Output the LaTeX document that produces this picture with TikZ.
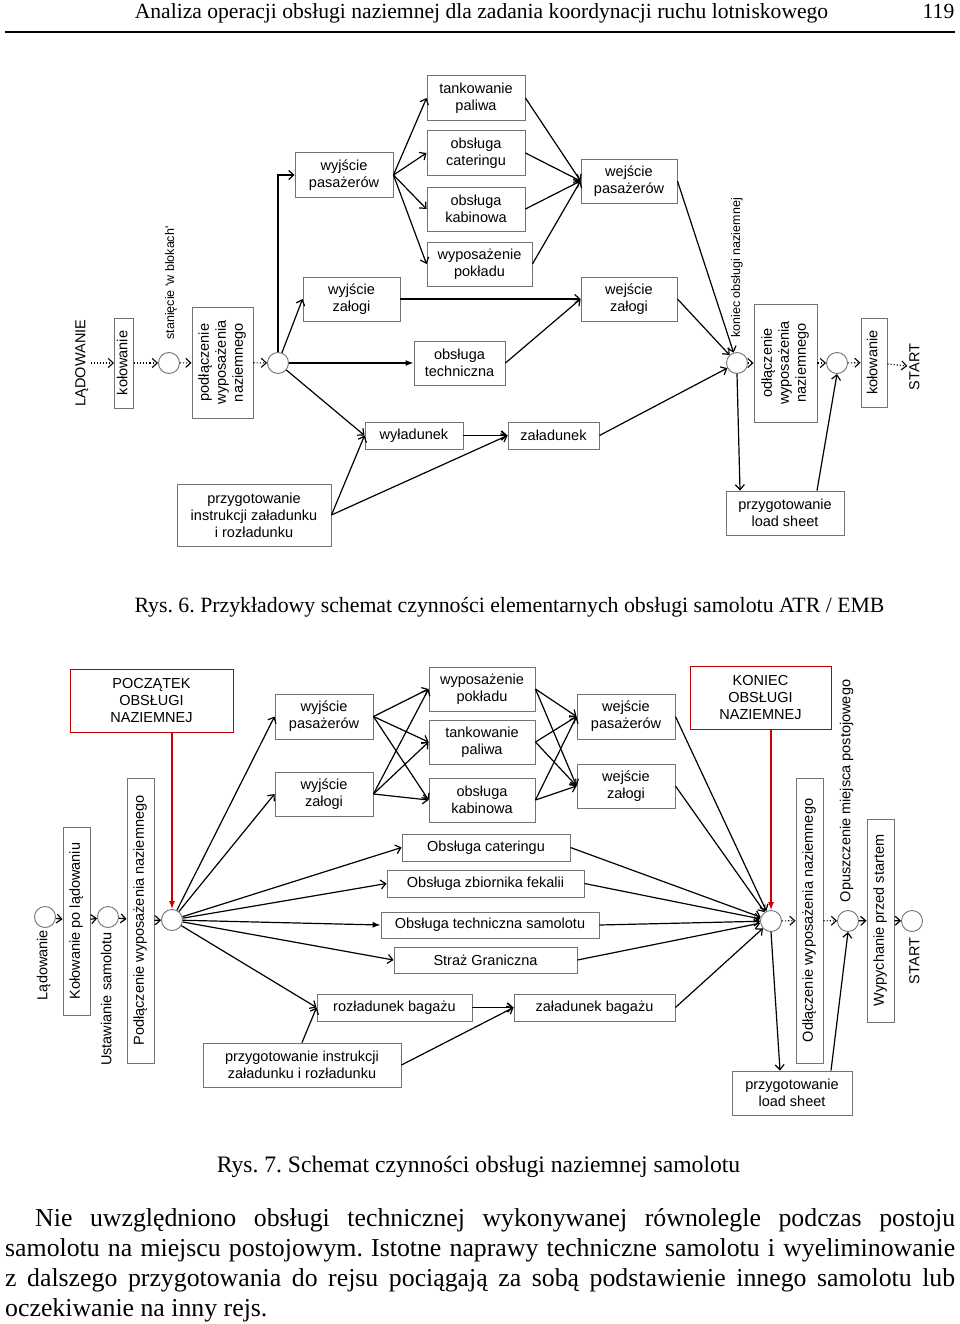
\documentclass[tikz,border=0pt]{standalone}
\usepackage{fontspec}
\usepackage{graphicx}
\setmainfont{Liberation Serif}
\newfontfamily\arial{Liberation Sans}
\usetikzlibrary{arrows.meta}
\frenchspacing
\newcommand{\diag}{\arial\fontsize{14.5}{17}\selectfont}
\newcommand{\diagsmall}{\arial\fontsize{12.5}{15}\selectfont}
\newcommand{\vtxt}[1]{\rotatebox{90}{\begin{tabular}{@{}c@{}}#1\end{tabular}}}
\tikzstyle{every node}=[font=\diag]
\tikzstyle{box}=[draw=black!55,
                 line width=0.9pt,
                 align=center,
                 inner sep=1pt
                 ]
\tikzstyle{redbox}=[box,
                    draw=red!75!black]
\tikzstyle{event}=[circle,
                   draw=black!55,
                   line width=0.9pt,
                   minimum size=21pt,
                   inner sep=0pt]
\tikzstyle{vlabel}=[inner sep=0pt]
\tikzstyle{seq}=[dotted,line width=1.1pt]
\tikzstyle{flow}=[line width=1.2pt]
\tikzset{wh/.style 2 args={minimum width=#1pt,minimum height=#2pt}}

\begin{document}
\begin{tikzpicture}[x=1pt,y=-1pt,>={Straight Barb[length=5pt,width=9pt]}]
\fill[white] (0,0) rectangle (960,1324);
\useasboundingbox (0,0) rectangle (960,1324);
% naglowek strony
\node[font=\rmfamily\fontsize{21.6}{25}\selectfont,anchor=base] (title) at (481.5,19) {Analiza operacji obsługi naziemnej dla zadania koordynacji ruchu lotniskowego};
\node[font=\rmfamily\fontsize{21.6}{25}\selectfont,anchor=base] (page) at (938.5,19) {119};
\coordinate (r_l) at (5,32);
\coordinate (r_r) at (955,32);
\draw[line width=2pt] (r_l) -- (r_r);

%%%% Rys. 6
\node (L_6)   [vlabel] at (82,363) {\vtxt{LĄDOWANIE}};
\node (K_6a)  [box,wh={18}{90}] at (124,363) {\vtxt{kołowanie}};
\node (S_1)   [event] at (169,363) {};
\node (SL_1)  [vlabel,font=\diagsmall] at (171,283) {\vtxt{stanięcie \textquotesingle w blokach\textquotesingle}};
\node (P_6)   [box,wh={61}{111}] at (222.5,362.5) {\vtxt{podłączenie\\wyposażenia\\naziemnego}};
\node (S_2)   [event] at (278,363) {};
\node (WP_6)  [box,wh={98}{45}] at (344,175) {wyjście\\pasażerów};
\node (TP_6)  [box,wh={98}{45}] at (476,98) {tankowanie\\paliwa};
\node (OC_6)  [box,wh={98}{45}] at (476,153) {obsługa\\cateringu};
\node (OK_6)  [box,wh={98}{44}] at (476,209) {obsługa\\kabinowa};
\node (WY_6)  [box,wh={105}{44}] at (479.5,264) {wyposażenie\\pokładu};
\node (WZ_6)  [box,wh={97}{44}] at (351.5,299) {wyjście\\załogi};
\node (OT_6)  [box,wh={91}{44}] at (459.5,363) {obsługa\\techniczna};
\node (WL_6)  [box,wh={98}{27}] at (414,435.5) {wyładunek};
\node (ZL_6)  [box,wh={91}{27}] at (553.5,435.5) {załadunek};
\node (PI_6)  [box,wh={154}{62}] at (254,515) {przygotowanie\\instrukcji załadunku\\i rozładunku};
\node (EP_6)  [box,wh={96}{44}] at (629,181) {wejście\\pasażerów};
\node (EZ_6)  [box,wh={96}{44}] at (629,299) {wejście\\załogi};
\node (S_3)   [event] at (737,363) {};
\node (SL_3)  [vlabel,font=\diagsmall] at (737,268) {\vtxt{koniec obsługi naziemnej}};
\node (OD_6)  [box,wh={63}{118}] at (785.5,363) {\vtxt{odłączenie\\wyposażenia\\naziemnego}};
\node (S_4)   [event] at (837,363) {};
\node (K_6b)  [box,wh={26}{89}] at (874,362.5) {\vtxt{kołowanie}};
\node (ST_6)  [vlabel] at (916,367) {\vtxt{START}};
\node (LS_6)  [box,wh={118}{44}] at (785,513) {przygotowanie\\load sheet};

\path[->] (L_6) edge[seq] (K_6a);
\path[->] (K_6a) edge[seq] (S_1);
\path[->] (S_1) edge[seq] (P_6);
\path[->] (P_6) edge[seq] (S_2);
\draw[->,flow] (S_2.north) |- (WP_6.west);
\path[->] (S_2) edge[flow] (WZ_6.west);
\path[-{Latex[length=8pt,width=6pt]}] (S_2) edge[flow] (OT_6);
\path[->] (S_2) edge[flow] (WL_6.west);
\foreach \t in {TP_6,OC_6,OK_6,WY_6}{
 \path[->] (WP_6.east) edge[flow] (\t.west);
 \path[->] (\t.east) edge[flow] (EP_6.west);
}
\path[->] (WZ_6) edge[flow] (EZ_6);
\path[->] (OT_6.east) edge[flow] (EZ_6.west);
\path[->] (WL_6) edge[line width=1.7pt] (ZL_6);
\path[->] (PI_6.east) edge[flow] (WL_6.west);
\path[->] (PI_6.east) edge[flow] (ZL_6.west);
\path[->] (EP_6.east) edge[flow] (S_3);
\path[->] (EZ_6.east) edge[flow] (S_3);
\path[->] (ZL_6.east) edge[flow] (S_3);
\path[->] (S_3) edge[seq] (OD_6);
\path[->] (OD_6) edge[seq] (S_4);
\path[->] (S_4) edge[seq] (K_6b);
\path[->] (K_6b) edge[seq] (ST_6);
\path[->] (S_3.south) edge[flow] ([xshift=-45pt]LS_6.north);
\path[->] ([xshift=32pt]LS_6.north) edge[flow] (S_4.south);

\node[font=\rmfamily\fontsize{21.8}{25}\selectfont,anchor=base] (cap6) at (509.5,612) {Rys. 6. Przykładowy schemat czynności elementarnych obsługi samolotu ATR / EMB};

%%%% Rys. 7
\node (C_1)   [event] at (45,917) {};
\node (CL_1)  [vlabel] at (44,965) {\vtxt{Lądowanie}};
\node (KL_7)  [box,wh={27}{188}] at (76.5,921) {\vtxt{Kołowanie po lądowaniu}};
\node (C_2)   [event] at (108,917) {};
\node (CL_2)  [vlabel] at (108,999) {\vtxt{Ustawianie samolotu}};
\node (PW_7)  [box,wh={27}{285}] at (140.5,920.5) {\vtxt{Podłączenie wyposażenia naziemnego}};
\node (C_3)   [event] at (172,920) {};
\node (PO_7)  [redbox,wh={163}{63}] at (151.5,700.5) {POCZĄTEK\\OBSŁUGI\\NAZIEMNEJ};
\node (WP_7)  [box,wh={98}{45}] at (324,716.5) {wyjście\\pasażerów};
\node (WZ_7)  [box,wh={98}{44}] at (324,794) {wyjście\\załogi};
\node (WY_7)  [box,wh={106}{44}] at (482,689) {wyposażenie\\pokładu};
\node (TP_7)  [box,wh={106}{44}] at (482,742) {tankowanie\\paliwa};
\node (OK_7)  [box,wh={106}{44}] at (482,800) {obsługa\\kabinowa};
\node (OC_7)  [box,wh={168}{27}] at (486,847.5) {Obsługa cateringu};
\node (OF_7)  [box,wh={197}{27}] at (485.5,883.5) {Obsługa zbiornika fekalii};
\node (OT_7)  [box,wh={218}{26}] at (490,925) {Obsługa techniczna samolotu};
\node (SG_7)  [box,wh={183}{26}] at (485.5,960) {Straż Graniczna};
\node (RB_7)  [box,wh={155}{27}] at (394.5,1007.5) {rozładunek bagażu};
\node (ZB_7)  [box,wh={161}{27}] at (594.5,1007.5) {załadunek bagażu};
\node (PI_7)  [box,wh={198}{44}] at (302,1065) {przygotowanie instrukcji\\załadunku i rozładunku};
\node (EP_7)  [box,wh={98}{45}] at (626,716.5) {wejście\\pasażerów};
\node (EZ_7)  [box,wh={98}{44}] at (626,786) {wejście\\załogi};
\node (KO_7)  [redbox,wh={141}{63}] at (760.5,697.5) {KONIEC\\OBSŁUGI\\NAZIEMNEJ};
\node (C_4)   [event] at (771,921) {};
\node (OW_7)  [box,wh={27}{285}] at (809.5,920.5) {\vtxt{Odłączenie wyposażenia naziemnego}};
\node (C_5)   [event] at (848,921) {};
\node (CL_5)  [vlabel] at (847,791) {\vtxt{Opuszczenie miejsca postojowego}};
\node (WS_7)  [box,wh={27}{203}] at (880.5,920.5) {\vtxt{Wypychanie przed startem}};
\node (C_6)   [event] at (912,921) {};
\node (CL_6)  [vlabel] at (916,961) {\vtxt{START}};
\node (LS_7)  [box,wh={120}{44}] at (792,1093) {przygotowanie\\load sheet};

\path[->] (C_1) edge[flow] (KL_7);
\path[->] (KL_7) edge[flow] (C_2);
\path[->] (C_2) edge[flow] (PW_7);
\path[->] (PW_7) edge[flow] (C_3);
\draw[-{Latex[length=8pt,width=6pt]},red!80!black,flow] (C_3.north |- PO_7.south) -- (C_3.north);
\path[->] (C_3) edge[flow] (WP_7.west);
\path[->] (C_3) edge[flow] (WZ_7.west);
\path[->] (C_3) edge[flow] (OC_7.west);
\path[->] (C_3) edge[flow] (OF_7.west);
\path[-{Latex[length=8pt,width=6pt]}] (C_3) edge[flow] (OT_7.west);
\path[->] (C_3) edge[flow] (SG_7.west);
\path[->] (C_3) edge[flow] (RB_7.west);
\foreach \t in {WY_7,TP_7,OK_7}{
 \path[->] (WP_7.east) edge[flow] (\t.west);
 \path[->] (WZ_7.east) edge[flow] (\t.west);
 \path[->] (\t.east) edge[flow] (EP_7.west);
 \path[->] (\t.east) edge[flow] (EZ_7.west);
}
\foreach \t in {EP_7,EZ_7,OC_7,OF_7,OT_7,SG_7,ZB_7}
 \path[->] (\t.east) edge[flow] (C_4);
\path[->] (RB_7) edge[line width=1.7pt] (ZB_7);
\path[->] (PI_7.north) edge[flow] (RB_7.west);
\path[->] (PI_7.east) edge[flow] (ZB_7.west);
\draw[-{Latex[length=8pt,width=6pt]},red!80!black,flow] (C_4.north |- KO_7.south) -- (C_4.north);
\path[->] (C_4) edge[seq] (OW_7);
\path[->] (OW_7) edge[seq] (C_5);
\path[->] (C_5) edge[flow] (WS_7);
\path[->] (WS_7) edge[flow] (C_6);
\path[->] (C_4.south) edge[flow] ([xshift=-12pt]LS_7.north);
\path[->] ([xshift=39pt]LS_7.north) edge[flow] (C_5.south);

\node[font=\rmfamily\fontsize{23.6}{27}\selectfont,anchor=base] (cap7) at (478.5,1172) {Rys. 7. Schemat czynności obsługi naziemnej samolotu};

% tekst
\begin{scope}[every node/.style={font=\rmfamily\fontsize{25.8}{30}\selectfont,anchor=base west,inner sep=0pt}]
\node (p_1) at (35,1226) {\makebox[920pt][s]{Nie uwzględniono obsługi technicznej wykonywanej równolegle podczas postoju}};
\node (p_2) at (5,1256) {\makebox[950pt][s]{samolotu na miejscu postojowym. Istotne naprawy techniczne samolotu i wyeliminowanie}};
\node (p_3) at (5,1286) {\makebox[950pt][s]{z dalszego przygotowania do rejsu pociągają za sobą podstawienie innego samolotu lub}};
\node (p_4) at (5,1316) {oczekiwanie na inny rejs.};
\end{scope}
\end{tikzpicture}
\end{document}
